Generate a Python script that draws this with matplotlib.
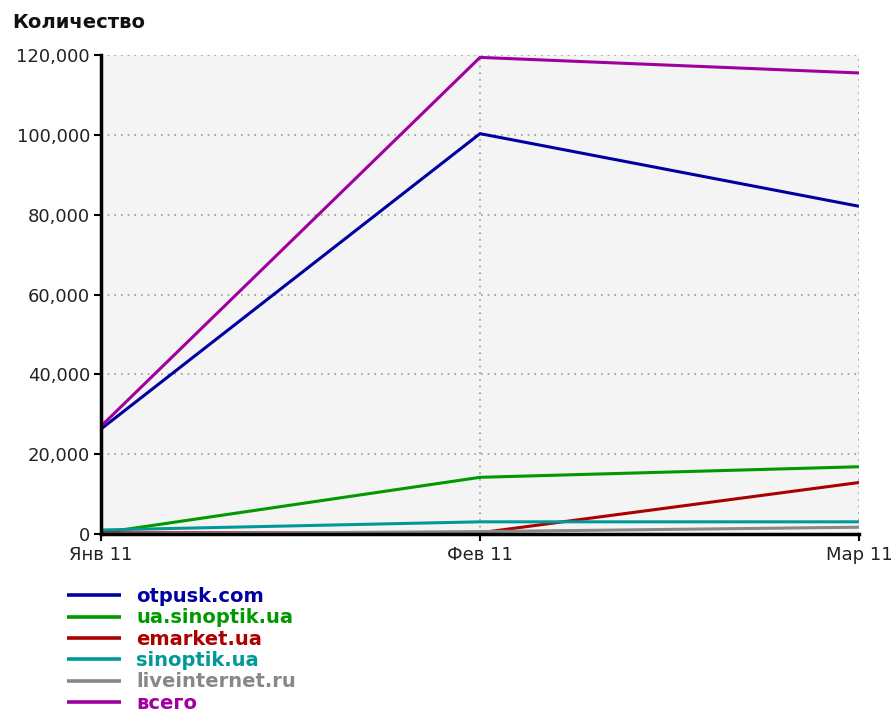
import matplotlib
matplotlib.use("Agg")
import matplotlib.pyplot as plt
from matplotlib.ticker import FuncFormatter

months = ["Янв 11", "Фев 11", "Мар 11"]
series_names = ["otpusk.com", "ua.sinoptik.ua", "emarket.ua", "sinoptik.ua", "liveinternet.ru", "всего"]
otpusk = [26300, 100300, 82100]
ua_sinoptik = [250, 14200, 16850]
emarket = [300, 300, 12900]
sinoptik = [1000, 3050, 3050]
liveinternet = [0, 600, 1700]
total = [27000, 119400, 115500]
yticks = [0, 20000, 40000, 60000, 80000, 100000, 120000]

colors = ["#0000a0", "#009900", "#aa0000", "#009999", "#888888", "#a000a0"]
values = [otpusk, ua_sinoptik, emarket, sinoptik, liveinternet, total]

plt.rcParams['font.family'] = ['DejaVu Sans']

fig = plt.figure(figsize=(8.92, 7.16), dpi=100)
ax = fig.add_axes([101/892, 1-534/716, (859-101)/892, (534-55)/716])
ax.set_facecolor("#f4f4f4")

x = list(range(len(months)))
handles = []
for name, vals, c in zip(series_names, values, colors):
    h, = ax.plot(x, vals, color=c, lw=2.2, label=name, solid_capstyle='butt', zorder=3)
    handles.append(h)

ax.set_xlim(0, 2)
ax.set_ylim(0, 120000)
ax.set_xticks(x)
ax.set_xticklabels(months)
ax.set_yticks(yticks)
ax.yaxis.set_major_formatter(FuncFormatter(lambda v, p: f"{int(v):,}"))

ax.grid(True, color="#999999", linestyle=(0, (1, 3)), linewidth=1.2, zorder=1)
for s in ["top", "right"]:
    ax.spines[s].set_visible(False)
for s in ["left", "bottom"]:
    ax.spines[s].set_linewidth(2.5)
    ax.spines[s].set_color("black")
    ax.spines[s].set_zorder(4)
ax.tick_params(axis="both", which="major", length=5, width=1.5, color="black",
               labelsize=13, labelcolor="#222222", pad=3)
ax.tick_params(axis="x", pad=4)

fig.text(12/892, 1-22/716, "Количество", fontsize=14, fontweight="bold",
         ha="left", va="center", color="#111111")

leg = fig.legend(handles=handles, loc="upper left",
                 bbox_to_anchor=(67/892, 1-587/716), frameon=False,
                 borderpad=0, borderaxespad=0, handlelength=2.8, handletextpad=0.75,
                 labelspacing=0.12, prop={"size": 14, "weight": "bold"},
                 labelcolor="linecolor")
for line in leg.get_lines():
    line.set_linewidth(2.6)

fig.savefig("out.png", dpi=100)
